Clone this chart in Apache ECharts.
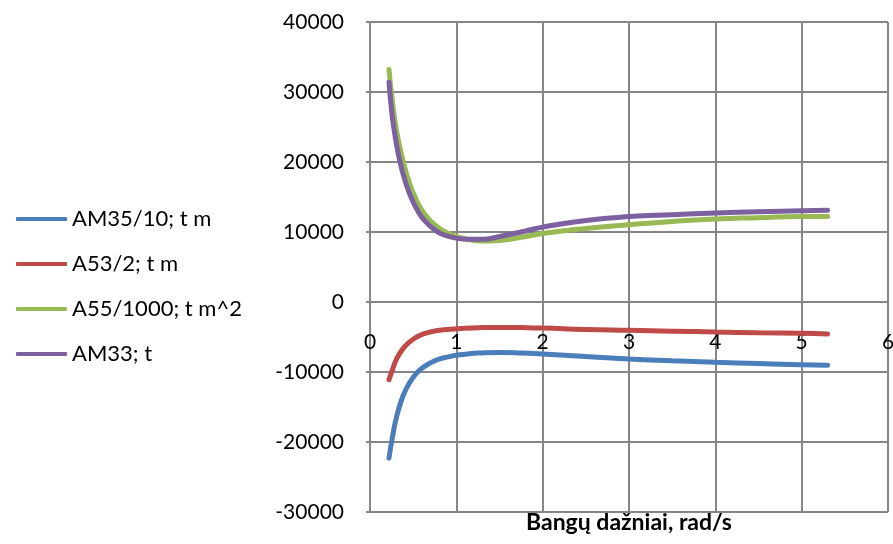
<!DOCTYPE html>
<html>
<head>
<meta charset="utf-8">
<script src="https://cdn.jsdelivr.net/npm/echarts@6/dist/echarts.min.js"></script>
<style>
  html, body { margin: 0; padding: 0; background: #fff; }
  #chart { width: 893px; height: 544px; }
</style>
</head>
<body>
<div id="chart"></div>
<script>
// Wave frequency, rad/s
const freq = [0.22, 0.26, 0.31, 0.38, 0.46, 0.54, 0.62, 0.75, 0.89, 1.1, 1.3, 1.5, 1.75, 2.0, 2.5, 3.0, 3.5, 4.0, 4.5, 5.0, 5.3];

const seriesNames = ['AM35/10; t m', 'A53/2; t m', 'A55/1000; t m^2', 'AM33; t'];

const am35 = [-22290, -19300, -16300, -13500, -11500, -10150, -9300, -8400, -7870, -7450, -7270, -7200, -7280, -7430, -7800, -8150, -8400, -8620, -8800, -8960, -9050];
const a53 = [-11100, -9650, -8100, -6700, -5700, -5000, -4550, -4150, -3930, -3750, -3660, -3630, -3660, -3720, -3930, -4050, -4170, -4290, -4390, -4480, -4580];
const a55 = [33200, 28600, 24300, 20300, 16900, 14500, 12800, 11000, 9900, 9050, 8700, 8780, 9250, 9800, 10500, 11040, 11510, 11850, 12050, 12230, 12230];
const am33 = [31400, 26300, 22300, 18400, 15400, 13300, 11800, 10300, 9450, 8980, 8950, 9350, 10000, 10700, 11650, 12200, 12480, 12710, 12900, 13040, 13090];

const colors = ['#4a7ebb', '#be4b48', '#98b954', '#7d60a0'];
const values = [am35, a53, a55, am33];

const font = 'Lato, "Open Sans", sans-serif';
const gridColor = '#868686';

const chart = echarts.init(document.getElementById('chart'));
chart.setOption({
  animation: false,
  color: colors,
  grid: { left: 370, right: 5, top: 22, bottom: 32, containLabel: false, outerBoundsMode: 'none' },
  legend: {
    orient: 'vertical',
    left: 11,
    top: 203,
    icon: 'roundRect',
    itemWidth: 51,
    itemHeight: 4,
    itemGap: 23,
    textStyle: { fontFamily: font, fontSize: 22, color: '#000' },
    data: seriesNames
  },
  xAxis: {
    type: 'value',
    min: 0,
    max: 6,
    interval: 1,
    axisLine: { onZero: false, lineStyle: { color: gridColor, width: 2 } },
    axisTick: { show: false },
    axisLabel: { fontFamily: font, fontSize: 21, color: '#000', margin: 30, showMaxLabel: true, showMinLabel: true, hideOverlap: false },
    splitLine: { show: true, lineStyle: { color: gridColor, width: 2 } }
  },
  yAxis: {
    type: 'value',
    min: -30000,
    max: 40000,
    interval: 10000,
    axisLine: { show: true, onZero: false, lineStyle: { color: gridColor, width: 2 } },
    axisTick: { show: true, length: 4, lineStyle: { color: gridColor, width: 2 } },
    axisLabel: { fontFamily: font, fontSize: 21, color: '#000', margin: 26, formatter: v => String(v) },
    splitLine: { show: true, lineStyle: { color: gridColor, width: 2 } }
  },
  graphic: [{
    type: 'text',
    x: 629,
    y: 523,
    style: { text: 'Bangų dažniai, rad/s', font: 'bold 23px ' + font, fill: '#000', textAlign: 'center', textVerticalAlign: 'middle' }
  }],
  series: values.map((vals, i) => ({
    name: seriesNames[i],
    type: 'line',
    smooth: 0.5,
    symbol: 'none',
    lineStyle: { width: 5, color: colors[i], cap: 'round' },
    data: freq.map((f, j) => [f, vals[j]])
  }))
});

// Move the frequency axis (line and labels) up so it crosses the value axis at zero.
const yZero = chart.convertToPixel({ yAxisIndex: 0 }, 0);
const yBottom = chart.convertToPixel({ yAxisIndex: 0 }, -30000);
chart.setOption({ xAxis: { offset: -(yBottom - yZero) } });
</script>
</body>
</html>
